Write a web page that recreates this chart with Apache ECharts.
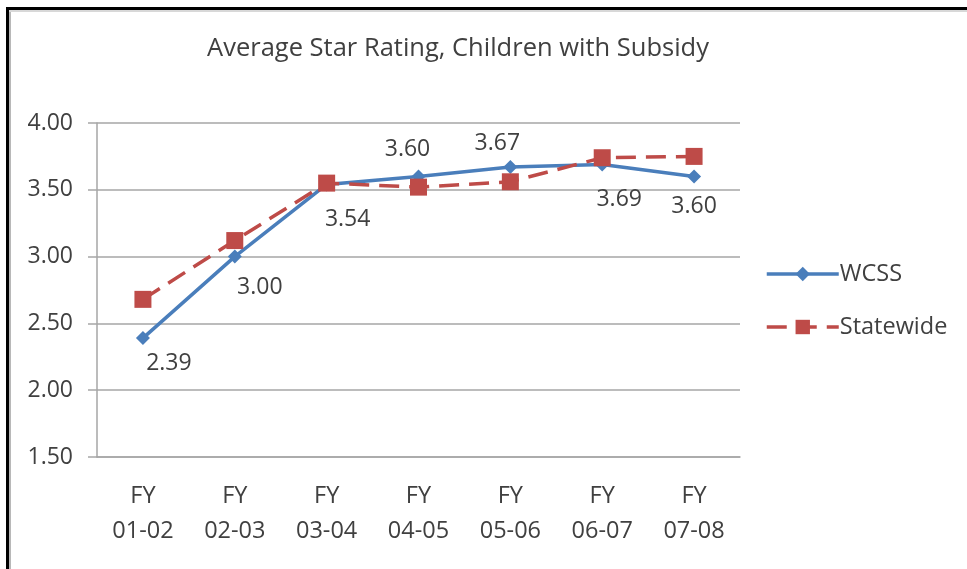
<!DOCTYPE html>
<html>
<head>
<meta charset="utf-8">
<script src="https://cdn.jsdelivr.net/npm/echarts@6/dist/echarts.min.js"></script>
<style>
  html, body { margin: 0; padding: 0; background: #ffffff; }
  #chart { width: 967px; height: 569px; }
</style>
</head>
<body>
<div id="chart"></div>
<script>
// Fiscal years shown on the category axis
const fiscalYears = ['FY\n01-02', 'FY\n02-03', 'FY\n03-04', 'FY\n04-05', 'FY\n05-06', 'FY\n06-07', 'FY\n07-08'];
// Average star rating per year
const wcssRatings = [2.39, 3.00, 3.54, 3.60, 3.67, 3.69, 3.60];
const statewideRatings = [2.68, 3.12, 3.55, 3.52, 3.56, 3.74, 3.75];
// Value axis range
const yMin = 1.5, yMax = 4.0, yStep = 0.5;

// Where each WCSS value label sits relative to its point
const wcssLabelOffsets = [[26, 25], [25, 31], [21, 35], [-11, -27], [-13, -24], [17, 35], [0, 30]];

const FONT = '"Open Sans", "Noto Sans", sans-serif';
const TEXT = '#404040';
const BLUE = '#4a7ebb';
const RED = '#be4b48';

const chart = echarts.init(document.getElementById('chart'), null, { renderer: 'canvas' });

chart.setOption({
  animation: false,
  backgroundColor: '#ffffff',
  title: {
    text: 'Average Star Rating, Children with Subsidy',
    left: 453,
    top: 31,
    textAlign: 'center',
    textStyle: { fontFamily: FONT, fontSize: 25.5, fontWeight: 'normal', color: TEXT }
  },
  grid: { left: 97, right: 227, top: 123, bottom: 112, containLabel: false },
  legend: {
    orient: 'vertical',
    left: 760,
    top: 257,
    itemWidth: 72,
    itemHeight: 18,
    itemGap: 29,
    lineStyle: { width: 3.5 },
    textStyle: { fontFamily: FONT, fontSize: 23.5, lineHeight: 20, color: TEXT, padding: [0, 0, 0, -4] },
    data: ['WCSS', 'Statewide']
  },
  xAxis: {
    type: 'category',
    data: fiscalYears,
    boundaryGap: true,
    axisLine: { show: true, lineStyle: { color: '#a6a6a6', width: 1.5 } },
    axisTick: { show: false },
    axisLabel: {
      fontFamily: FONT, fontSize: 23.5, color: TEXT, lineHeight: 35, margin: 22
    },
    splitLine: { show: false }
  },
  yAxis: {
    type: 'value',
    min: yMin,
    max: yMax,
    interval: yStep,
    axisLine: { show: true, lineStyle: { color: '#a6a6a6', width: 1.5 } },
    axisTick: { show: true, length: 9, lineStyle: { color: '#a6a6a6', width: 1.5 } },
    axisLabel: {
      fontFamily: FONT, fontSize: 23, color: TEXT, margin: 24,
      formatter: v => v.toFixed(2)
    },
    splitLine: { show: true, lineStyle: { color: '#a6a6a6', width: 1.5 } }
  },
  graphic: [
    // black frame along the top and left edges
    { type: 'rect', shape: { x: 6, y: 7, width: 3, height: 562 }, style: { fill: '#000' }, silent: true },
    { type: 'rect', shape: { x: 6, y: 7, width: 961, height: 3 }, style: { fill: '#000' }, silent: true },
    // thin grey inner edge
    { type: 'rect', shape: { x: 9, y: 10, width: 2, height: 559 }, style: { fill: '#b8b8b8' }, silent: true },
    { type: 'rect', shape: { x: 9, y: 10, width: 958, height: 2 }, style: { fill: '#d8d8d8' }, silent: true }
  ],
  series: [
    {
      name: 'WCSS',
      type: 'line',
      data: wcssRatings.map((v, i) => ({
        value: v,
        label: { offset: wcssLabelOffsets[i] }
      })),
      symbol: 'diamond',
      symbolSize: 14,
      lineStyle: { color: BLUE, width: 3.5 },
      itemStyle: { color: BLUE },
      label: {
        show: true,
        position: 'inside',
        formatter: p => p.value.toFixed(2),
        fontFamily: FONT, fontSize: 23, color: TEXT
      },
      z: 2
    },
    {
      name: 'Statewide',
      type: 'line',
      data: statewideRatings,
      symbol: 'rect',
      symbolSize: 17,
      lineStyle: { color: RED, width: 3.5, type: [20, 10] },
      itemStyle: { color: RED },
      z: 3
    }
  ]
});
</script>
</body>
</html>
